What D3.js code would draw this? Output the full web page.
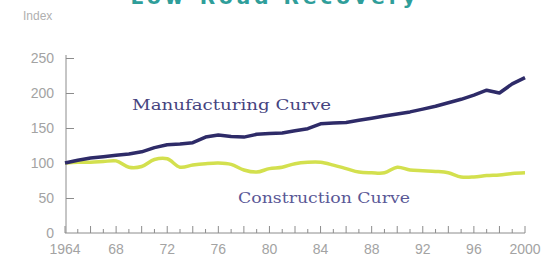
<!DOCTYPE html>
<html>
<head>
<meta charset="utf-8">
<script src="https://cdn.jsdelivr.net/npm/d3@7"></script>
<style>
  body { margin: 0; background: #fff; }
  .axis text { font-family: "Liberation Sans Narrow", "Liberation Sans", sans-serif; fill: #a3a3a3; font-size: 14px; }
  .axis path, .axis line { stroke: #8c8c8c; }
</style>
</head>
<body>
<div id="chart"></div>
<script>
// data (index, 1964 = 100)
const years = d3.range(1964, 2001);
const manufacturing = [100, 104, 107, 109, 111, 113, 116, 122, 126, 127, 129, 137, 140, 138, 137, 141, 142, 143, 146, 149, 156, 157, 158, 161, 164, 167, 170, 173, 177, 181, 186, 191, 197, 204, 200, 213, 222];
const construction = [100, 101, 101, 102, 103, 94, 95, 105, 106, 94, 97, 99, 100, 98, 90, 87, 92, 94, 99, 101, 101, 97, 92, 87, 86, 86, 94, 90, 89, 88, 86, 80, 80, 82, 83, 85, 86];
const yTicks = [0, 50, 100, 150, 200, 250];
const xLabelYears = [1964, 1968, 1972, 1976, 1980, 1984, 1988, 1992, 1996, 2000];

const W = 543, H = 265;
const svg = d3.select("#chart").append("svg")
  .attr("width", W)
  .attr("height", H);

// title, mostly cut off at top in the source
svg.append("text")
  .attr("x", 275)
  .attr("y", 4)
  .attr("text-anchor", "middle")
  .style("font-family", "DejaVu Sans, sans-serif")
  .style("font-weight", "bold")
  .style("font-size", "20px")
  .style("letter-spacing", "4px")
  .style("fill", "#2f9e9a")
  .text("Low-Road Recovery");

svg.append("text")
  .attr("x", 23)
  .attr("y", 20)
  .style("font-family", "Liberation Sans Narrow, sans-serif")
  .style("font-size", "12px")
  .style("fill", "#b0b0b0")
  .text("Index");

// SCALES
const xScale = d3.scaleLinear().domain([1964, 2000]).range([65, 525]);
const yScale = d3.scaleLinear().domain([0, 250]).range([233, 58]);

// AXES
const yAxis = d3.axisRight(yScale)
  .tickValues(yTicks)
  .tickSize(8)
  .tickFormat(d => d);

const gy = svg.append("g")
  .attr("class", "axis")
  .attr("transform", "translate(66,0)")
  .call(yAxis);
gy.select(".domain").attr("d", "M0," + yScale(0) + "V55");
gy.selectAll("text")
  .attr("x", -12)
  .attr("text-anchor", "end");
gy.selectAll(".tick line").filter(d => d === 0).remove();

const gx = svg.append("g")
  .attr("class", "axis")
  .attr("transform", "translate(0," + yScale(0) + ")");
gx.append("path")
  .attr("class", "domain")
  .attr("d", "M" + xScale(1964) + ",0H" + xScale(2000));
gx.selectAll(".tk")
  .data(years)
  .enter().append("line")
  .attr("class", "tk")
  .attr("x1", d => xScale(d))
  .attr("x2", d => xScale(d))
  .attr("y1", 0)
  .attr("y2", d => (d % 2 === 0 ? -7 : -4));
gx.selectAll(".lbl")
  .data(xLabelYears)
  .enter().append("text")
  .attr("class", "lbl")
  .attr("x", d => xScale(d))
  .attr("y", 21)
  .attr("text-anchor", "middle")
  .text(d => (d === 1964 || d === 2000) ? d : String(d).slice(2));

// LINES
const line = d3.line()
  .x((d, i) => xScale(years[i]))
  .y(d => yScale(d));

svg.append("path")
  .datum(construction)
  .attr("fill", "none")
  .attr("stroke", "#d3e04e")
  .attr("stroke-width", 3.5)
  .attr("stroke-linejoin", "round")
  .attr("d", line.curve(d3.curveCatmullRom)(construction));

svg.append("path")
  .datum(manufacturing)
  .attr("fill", "none")
  .attr("stroke", "#2e2b68")
  .attr("stroke-width", 3.5)
  .attr("stroke-linejoin", "round")
  .attr("d", line.curve(d3.curveLinear)(manufacturing));

// curve labels
svg.append("text")
  .attr("x", 132)
  .attr("y", 110)
  .attr("textLength", 199)
  .attr("lengthAdjust", "spacingAndGlyphs")
  .style("font-family", "DejaVu Serif, serif")
  .style("font-size", "15px")
  .style("fill", "#46447f")
  .text("Manufacturing Curve");

svg.append("text")
  .attr("x", 238)
  .attr("y", 203)
  .attr("textLength", 172)
  .attr("lengthAdjust", "spacingAndGlyphs")
  .style("font-family", "DejaVu Serif, serif")
  .style("font-size", "15px")
  .style("fill", "#5a5896")
  .text("Construction Curve");
</script>
</body>
</html>
